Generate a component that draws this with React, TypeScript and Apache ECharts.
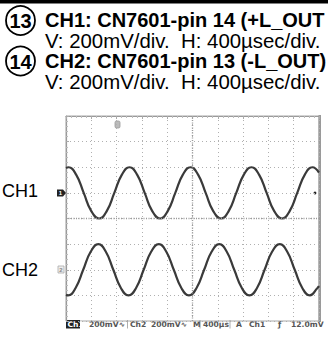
import React, { useEffect, useRef } from "react";
import * as echarts from "echarts";

// Header texts
const HEADER_LINES = [
  "CH1: CN7601-pin 14 (+L_OUT",
  "V: 200mV/div.  H: 400\u00b5sec/div.",
  "CH2: CN7601-pin 13 (-L_OUT)",
  "V: 200mV/div.  H: 400\u00b5sec/div.",
];
const CIRCLE_NUMS = ["13", "14"];
const CHANNEL_LABELS = ["CH1", "CH2"];

// Waveform samples (x in horizontal divisions 0..10, y in vertical divisions 0..8 from bottom)
const CH1_X = [0, 0.10, 0.40, 0.70, 1.00, 1.31, 1.61, 1.91, 2.21, 2.51, 2.81, 3.11, 3.41, 3.72, 4.02, 4.32, 4.62, 4.92, 5.22, 5.52, 5.82, 6.13, 6.43, 6.73, 7.03, 7.33, 7.63, 7.93, 8.23, 8.54, 8.84, 9.14, 9.44, 9.74, 10.0];
const CH1_Y = [5.97, 6, 5.71, 5, 4.29, 4, 4.29, 5, 5.71, 6, 5.71, 5, 4.29, 4, 4.29, 5, 5.71, 6, 5.71, 5, 4.29, 4, 4.29, 5, 5.71, 6, 5.71, 5, 4.29, 4, 4.29, 5, 5.71, 6, 5.79];
const CH2_X = [0, 0.08, 0.38, 0.68, 0.98, 1.28, 1.57, 1.87, 2.17, 2.47, 2.77, 3.07, 3.37, 3.67, 3.96, 4.26, 4.56, 4.86, 5.16, 5.46, 5.76, 6.06, 6.35, 6.65, 6.95, 7.25, 7.55, 7.85, 8.15, 8.45, 8.74, 9.04, 9.34, 9.64, 9.94, 10.0];
const CH2_Y = [1.02, 1, 1.29, 2, 2.71, 3, 2.71, 2, 1.29, 1, 1.29, 2, 2.71, 3, 2.71, 2, 1.29, 1, 1.29, 2, 2.71, 3, 2.71, 2, 1.29, 1, 1.29, 2, 2.71, 3, 2.71, 2, 1.29, 1, 1.29, 1.36];

// Status bar texts
const STATUS_ITEMS = [
  { text: "Ch1", x: 67.5, inverse: true },
  { text: "200mV\u223f", x: 89 },
  { text: "Ch2", x: 130 },
  { text: "200mV\u223f", x: 151 },
  { text: "M", x: 193 },
  { text: "400\u00b5s", x: 203 },
  { text: "A", x: 236 },
  { text: "Ch1", x: 249 },
  { text: "\u0192", x: 278 },
  { text: "12.0mV", x: 291 },
];

const GRID = { left: 66, top: 116, width: 253, height: 205 };

export default function App() {
  const ref = useRef<HTMLDivElement>(null);
  useEffect(() => {
    document.body.style.margin = "0";
    const chart = echarts.init(ref.current!, null, { renderer: "svg" });
    const pairs = (xs: number[], ys: number[]) => xs.map((x, i) => [x, ys[i]]);
    const sansFont = '"Liberation Sans", Arial, Helvetica, sans-serif';
    const statusFont = '"DejaVu Sans", "Liberation Sans", sans-serif';
    const graphics: any[] = [];
    // top black bar
    graphics.push({ type: "rect", shape: { x: 0, y: 0, width: 328, height: 3.5 }, style: { fill: "#000" } });
    // header lines
    const headerY = [20, 40.5, 61, 81.5];
    HEADER_LINES.forEach((t, i) => {
      graphics.push({
        type: "text",
        x: 45,
        y: headerY[i],
        style: {
          text: t,
          font: `${i % 2 === 0 ? "bold 20px" : "20.4px"} ${sansFont}`,
          fill: "#000",
          textVerticalAlign: "middle",
          textAlign: "left",
        },
      });
    });
    // circled numbers
    CIRCLE_NUMS.forEach((n, i) => {
      const cy = i === 0 ? 20.5 : 61;
      graphics.push({ type: "circle", shape: { cx: 20.5, cy, r: 14.5 }, style: { fill: "none", stroke: "#000", lineWidth: 1.8 } });
      graphics.push({
        type: "text",
        x: 20.5,
        y: cy + 0.5,
        style: { text: n, font: `bold 20px ${sansFont}`, fill: "#000", textAlign: "center", textVerticalAlign: "middle" },
      });
    });
    // channel labels
    const chY = [191, 270];
    CHANNEL_LABELS.forEach((t, i) => {
      graphics.push({
        type: "text",
        x: 2,
        y: chY[i],
        style: { text: t, font: `18px ${sansFont}`, fill: "#000", textAlign: "left", textVerticalAlign: "middle" },
      });
    });
    // CH1 ground marker
    graphics.push({ type: "polygon", shape: { points: [[57, 189.5], [63, 189.5], [66, 193], [63, 196.5], [57, 196.5]] }, style: { fill: "#222" } });
    graphics.push({ type: "text", x: 60.5, y: 193.2, style: { text: "1", font: `bold 6px ${sansFont}`, fill: "#fff", textAlign: "center", textVerticalAlign: "middle" } });
    // CH2 ground marker
    graphics.push({ type: "rect", shape: { x: 58, y: 266, width: 6, height: 7 }, style: { fill: "#eee", stroke: "#aaa", lineWidth: 0.8 } });
    graphics.push({ type: "text", x: 61, y: 269.5, style: { text: "2", font: `bold 6px ${sansFont}`, fill: "#888", textAlign: "center", textVerticalAlign: "middle" } });
    // trigger position marker (top)
    graphics.push({ type: "rect", shape: { x: 115, y: 121, width: 5, height: 7, r: 1.5 }, style: { fill: "#bbb", stroke: "#999", lineWidth: 0.8 } });
    // trigger level dot (right)
    graphics.push({ type: "circle", shape: { cx: 315, cy: 193, r: 1.4 }, style: { fill: "#222" } });
    // thick right frame edge
    graphics.push({ type: "rect", shape: { x: 318.5, y: 115, width: 2.5, height: 207 }, style: { fill: "#9a9a9a" } });
    // status bar
    graphics.push({ type: "rect", shape: { x: 66, y: 320, width: 14, height: 8.5 }, style: { fill: "#222" } });
    [127.5, 200, 230].forEach((sx) => {
      graphics.push({ type: "line", shape: { x1: sx, y1: 320, x2: sx, y2: 328.5 }, style: { stroke: "#999", lineWidth: 0.8 } });
    });
    STATUS_ITEMS.forEach((it: any) => {
      graphics.push({
        type: "text",
        x: it.x,
        y: 324.5,
        style: {
          text: it.text,
          font: `bold 7.6px ${statusFont}`,
          fill: it.inverse ? "#fff" : "#555",
          textAlign: "left",
          textVerticalAlign: "middle",
        },
      });
    });

    const dotted = { color: "#b0b0b0", width: 1, type: [1, 3] as any };
    chart.setOption({
      animation: false,
      grid: { left: GRID.left, top: GRID.top, width: GRID.width, height: GRID.height, show: true, borderColor: "#a8a8a8", borderWidth: 1, backgroundColor: "#fff" },
      xAxis: [
        {
          type: "value", min: 0, max: 10, interval: 1,
          axisLabel: { show: false },
          axisLine: { show: false },
          axisTick: { show: false },
          splitLine: { show: true, lineStyle: dotted },
        },
        {
          type: "value", position: "top", min: 0, max: 10, interval: 1,
          axisLabel: { show: false },
          axisLine: { show: true, lineStyle: { color: "#9a9a9a", width: 1.2 } },
          axisTick: { show: true, inside: true, length: 3, lineStyle: { color: "#aaa" } },
          minorTick: { show: true, splitNumber: 5, length: 2, lineStyle: { color: "#bbb" } },
          splitLine: { show: false },
        },
      ],
      yAxis: [
        {
          type: "value", min: 0, max: 8, interval: 1,
          axisLabel: { show: false },
          axisLine: { show: true, lineStyle: { color: "#9a9a9a", width: 1.2 } },
          axisTick: { show: true, inside: true, length: 3, lineStyle: { color: "#aaa" } },
          minorTick: { show: true, splitNumber: 5, length: 2, lineStyle: { color: "#bbb" } },
          splitLine: { show: true, lineStyle: dotted },
        },
      ],
      series: [
        {
          type: "line",
          data: pairs(CH1_X, CH1_Y),
          smooth: 0.5,
          showSymbol: false,
          lineStyle: { color: "#3a3a3a", width: 2.2 },
          markLine: {
            silent: true,
            symbol: "none",
            label: { show: false },
            lineStyle: { color: "#9a9a9a", width: 1.4, type: [1, 1.5] as any },
            data: [{ xAxis: 5 }, { yAxis: 4 }],
          },
        },
        {
          type: "line",
          data: pairs(CH2_X, CH2_Y),
          smooth: 0.5,
          showSymbol: false,
          lineStyle: { color: "#3a3a3a", width: 2.2 },
        },
      ],
      graphic: graphics,
    });
    return () => chart.dispose();
  }, []);
  return <div ref={ref} style={{ width: 328, height: 339 }} />;
}
